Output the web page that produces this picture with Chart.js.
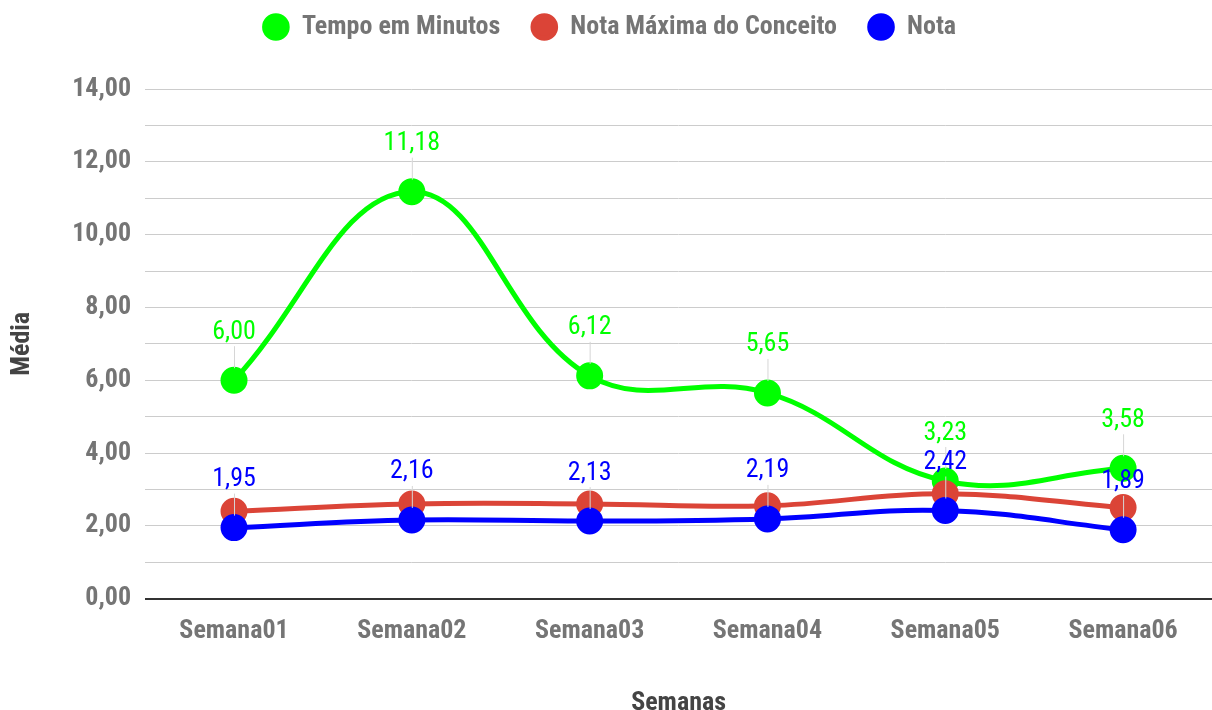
<!DOCTYPE html>
<html>
<head>
<meta charset="utf-8">
<script src="https://cdn.jsdelivr.net/npm/chart.js@4/dist/chart.umd.min.js"></script>
<style>
  html, body { margin: 0; padding: 0; background: #fff; }
  #wrap { width: 1212px; height: 710px; }
</style>
</head>
<body>
<div id="wrap"><canvas id="chart"></canvas></div>
<script>
const semanas = ["Semana01", "Semana02", "Semana03", "Semana04", "Semana05", "Semana06"];
const tempoMinutos = [6.00, 11.18, 6.12, 5.65, 3.23, 3.58];
const notaMaxima = [2.40, 2.60, 2.60, 2.55, 2.88, 2.50];
const nota = [1.95, 2.16, 2.13, 2.19, 2.42, 1.89];
const yTicks = [0, 2, 4, 6, 8, 10, 12, 14];

const FAMILY = "'Roboto Condensed', 'Liberation Sans Narrow', Roboto, sans-serif";
const fmt = v => v.toFixed(2).replace(".", ",");

// extra space under the legend
const legendGap = {
    id: "legendGap",
    beforeInit(chart) {
        const fit = chart.legend.fit;
        chart.legend.fit = function () {
            fit.bind(chart.legend)();
            this.height += 39;
        };
    }
};

// value labels above points with a thin leader line
const valueLabels = {
    id: "valueLabels",
    afterDatasetsDraw(chart) {
        const ctx = chart.ctx;
        chart.data.datasets.forEach((ds, i) => {
            if (!ds.showLabels) return;
            const meta = chart.getDatasetMeta(i);
            meta.data.forEach((pt, j) => {
                const x = pt.x, y = pt.y;
                ctx.save();
                ctx.strokeStyle = "#d6d6d6";
                ctx.lineWidth = 1;
                ctx.beginPath();
                ctx.moveTo(x + 0.5, y - 12);
                ctx.lineTo(x + 0.5, y - 34);
                ctx.stroke();
                ctx.fillStyle = ds.borderColor;
                ctx.font = "26px " + FAMILY;
                ctx.textAlign = "center";
                ctx.textBaseline = "middle";
                ctx.fillText(fmt(ds.data[j]), x, y - 48);
                ctx.restore();
            });
        });
    }
};

const ctx = document.getElementById("chart").getContext("2d");
new Chart(ctx, {
    type: "line",
    data: {
        labels: semanas,
        datasets: [
            {
                label: "Tempo em Minutos",
                data: tempoMinutos,
                borderColor: "#00ff00",
                backgroundColor: "#00ff00",
                borderWidth: 5,
                pointRadius: 11,
                tension: 0.4,
                order: 3,
                showLabels: true,
            },
            {
                label: "Nota Máxima do Conceito",
                data: notaMaxima,
                borderColor: "#db4437",
                backgroundColor: "#db4437",
                borderWidth: 5,
                pointRadius: 11,
                tension: 0.4,
                order: 2,
                showLabels: false,
            },
            {
                label: "Nota",
                data: nota,
                borderColor: "#0000ff",
                backgroundColor: "#0000ff",
                borderWidth: 5,
                pointRadius: 11,
                tension: 0.4,
                order: 1,
                showLabels: true,
            },
        ],
    },
    options: {
        responsive: true,
        maintainAspectRatio: false,
        animation: false,
        layout: { autoPadding: false, padding: { top: -17, right: 0, left: 7, bottom: -9 } },
        plugins: {
            legend: {
                position: "top",
                labels: {
                    usePointStyle: true,
                    pointStyle: "circle",
                    boxWidth: 26,
                    boxHeight: 16,
                    padding: 31,
                    color: "#757575",
                    font: { family: FAMILY, size: 26, weight: "bold" },
                    sort: (a, b) => a.datasetIndex - b.datasetIndex,
                },
            },
            tooltip: { enabled: false },
        },
        scales: {
            x: {
                offset: true,
                grid: { display: false, drawTicks: false },
                border: { display: false },
                ticks: {
                    color: "#757575",
                    padding: 17,
                    font: { family: FAMILY, size: 26, weight: "bold" },
                    maxRotation: 0,
                },
                title: {
                    display: true,
                    text: "Semanas",
                    color: "#444444",
                    padding: { top: 24, bottom: 0 },
                    font: { family: FAMILY, size: 26, weight: "bold" },
                },
            },
            y: {
                min: 0,
                max: 14,
                afterBuildTicks: scale => {
                    const t = [];
                    for (let v = 0; v <= 14; v++) t.push({ value: v });
                    scale.ticks = t;
                },
                grid: {
                    drawTicks: false,
                    color: ctx => ctx.tick && ctx.tick.value === 0 ? "#333333" : "#cccccc",
                    lineWidth: ctx => ctx.tick && ctx.tick.value === 0 ? 2 : 1,
                },
                border: { display: false },
                ticks: {
                    color: "#757575",
                    padding: 14,
                    autoSkip: false,
                    font: { family: FAMILY, size: 26, weight: "bold" },
                    callback: v => yTicks.includes(v) ? fmt(v) : "",
                },
                title: {
                    display: true,
                    text: "Média",
                    color: "#444444",
                    padding: { top: 0, bottom: 20 },
                    font: { family: FAMILY, size: 26, weight: "bold" },
                },
            },
        },
    },
    plugins: [legendGap, valueLabels],
});
</script>
</body>
</html>
